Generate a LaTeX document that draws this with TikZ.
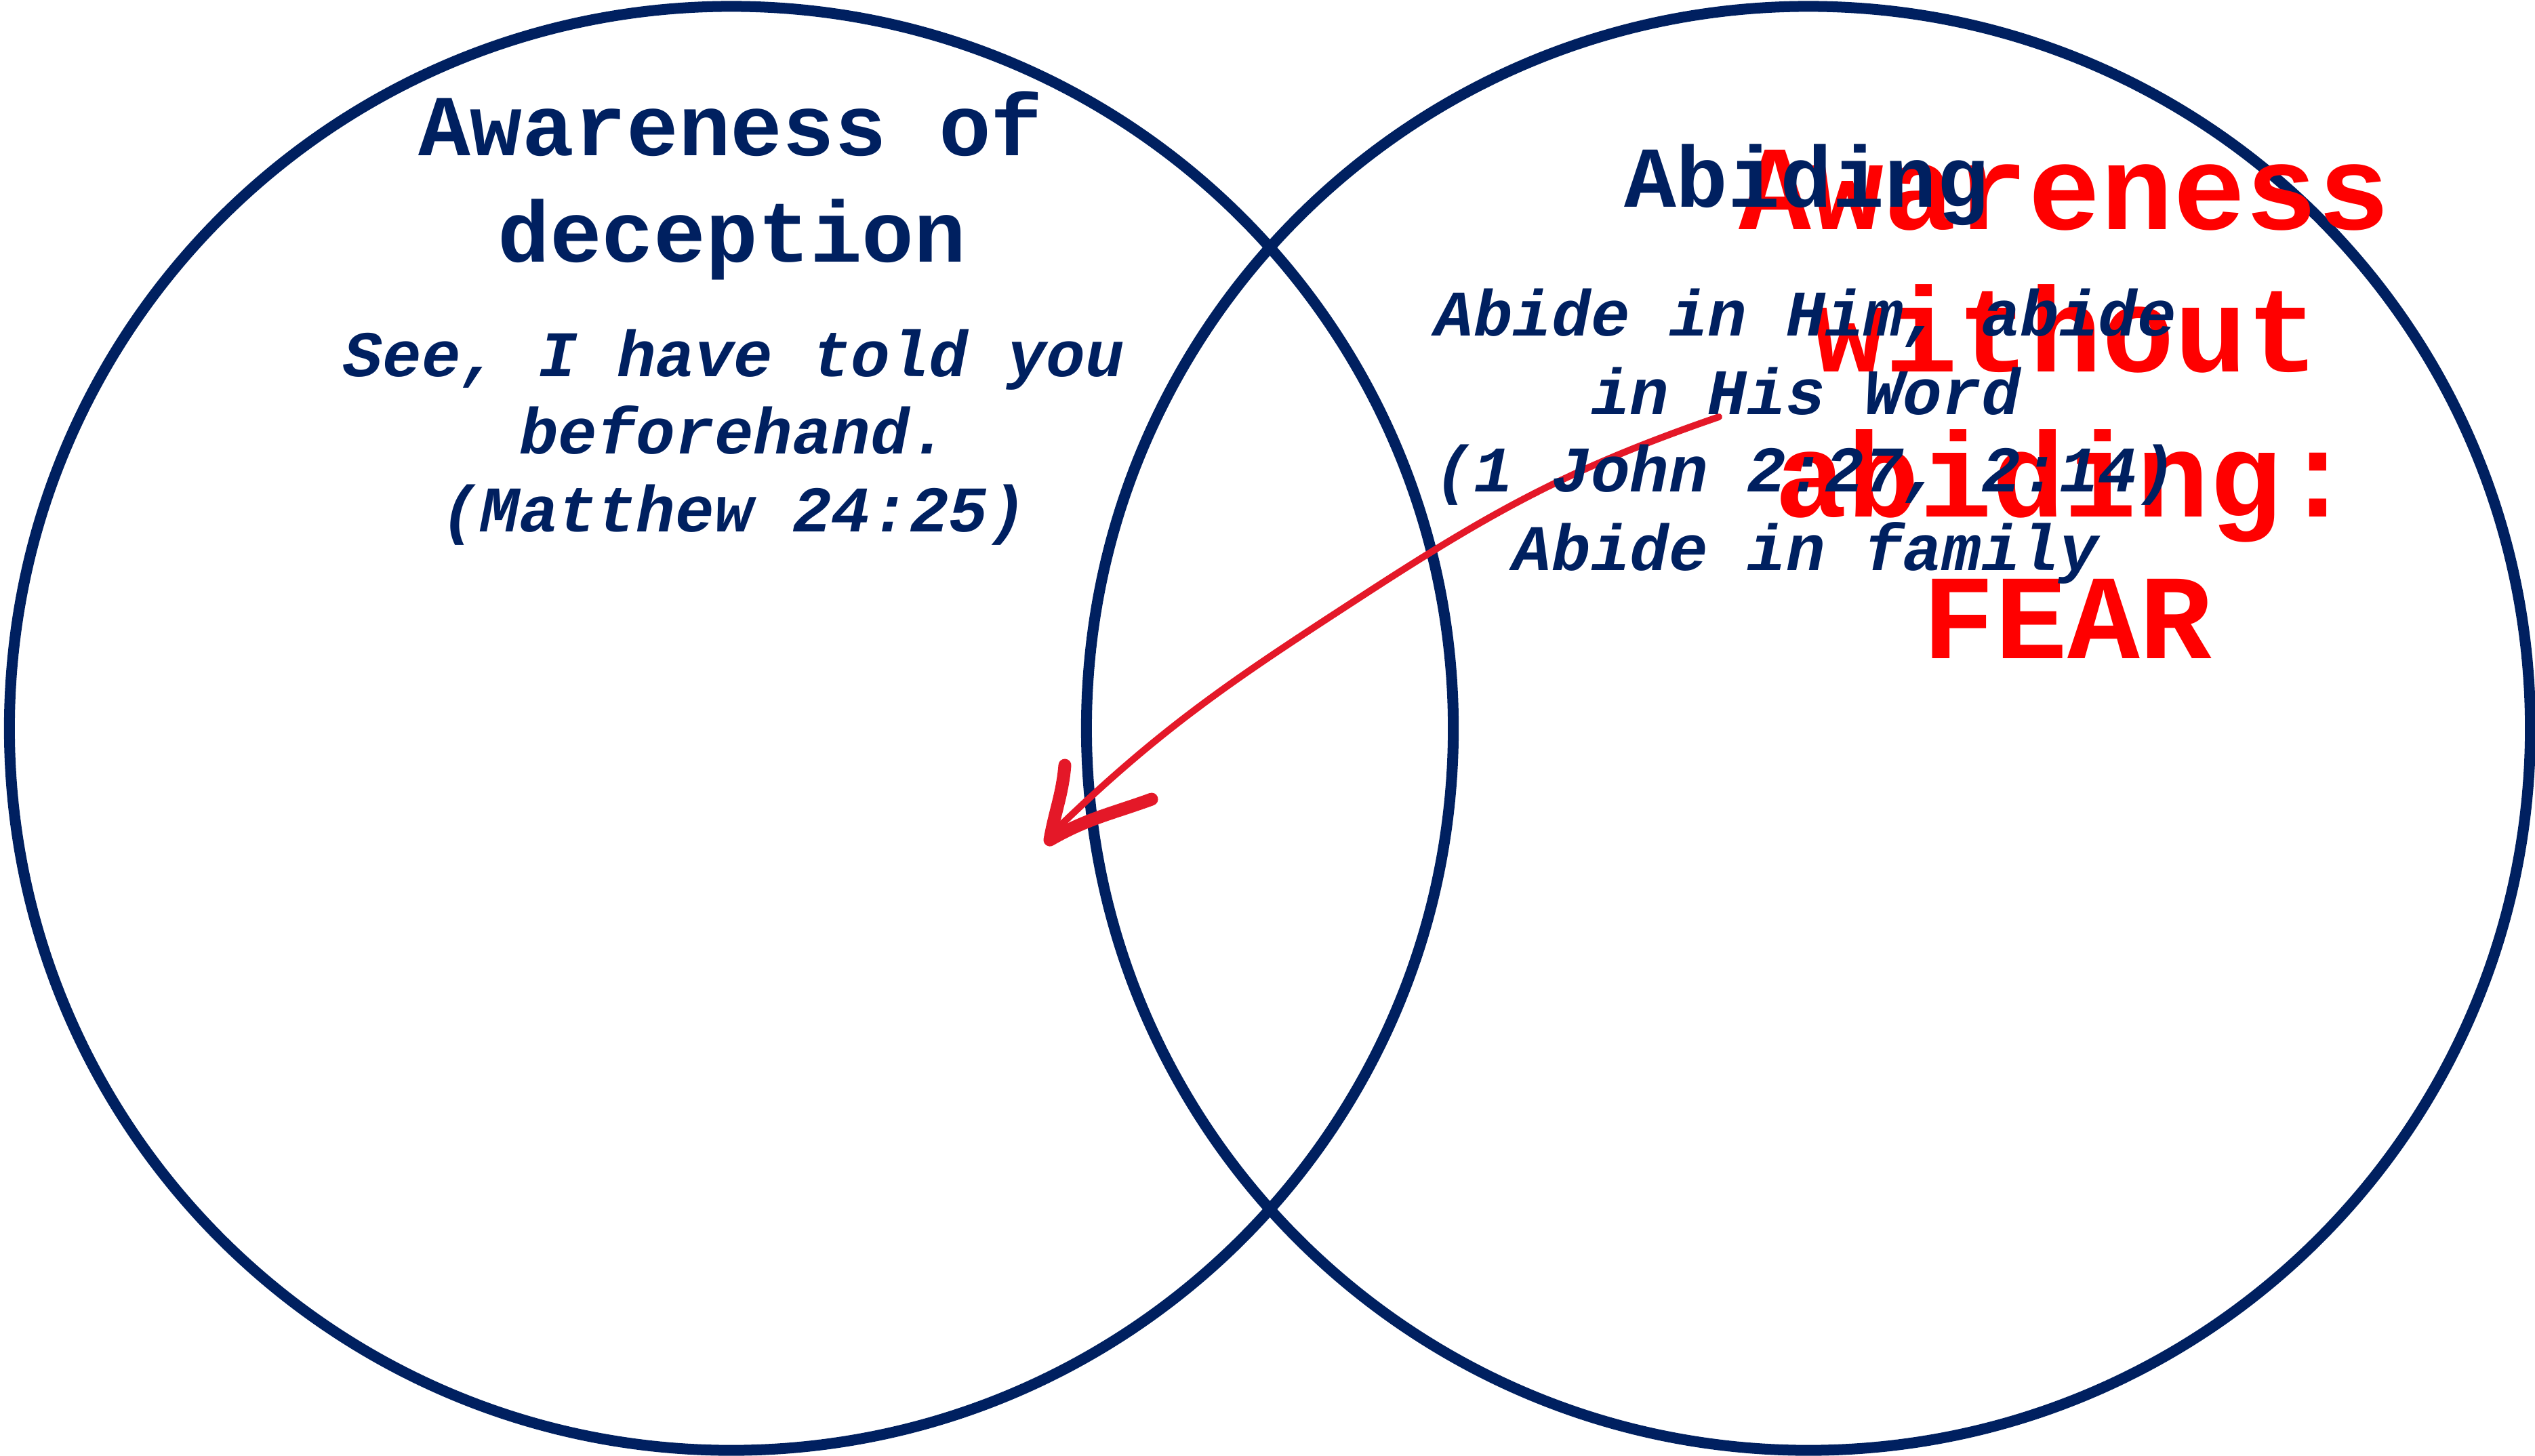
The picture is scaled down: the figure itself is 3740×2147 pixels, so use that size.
\documentclass[tikz,border=0pt]{standalone}
\usepackage{fontspec}
\newfontfamily\cour{Liberation Mono}
\definecolor{navy}{RGB}{0,32,96}
\definecolor{inkred}{RGB}{228,24,40}
\definecolor{redtxt}{RGB}{255,0,0}
\begin{document}
\begin{tikzpicture}[x=0.01cm,y=-0.01cm,
  ring/.style={draw=navy, line width=0.16cm, circle, minimum size=21.29cm, inner sep=0pt, outer sep=0pt},
  ttl/.style={anchor=base, inner sep=0pt, text=navy, font=\cour\bfseries\fontsize{36.4}{44}\selectfont},
  vrs/.style={anchor=base, inner sep=0pt, text=navy, font=\cour\bfseries\itshape\fontsize{27.3}{33}\selectfont},
  fear/.style={anchor=base, inner sep=0pt, text=redtxt, font=\cour\bfseries\fontsize{50.6}{60}\selectfont},
  shaft/.style={draw=inkred, line width=0.1cm, line cap=round, line join=round},
  head/.style={draw=inkred, line width=0.19cm, line cap=round, line join=round}]
\useasboundingbox (0,0) rectangle (3740,2147);
\node[ring] (L) at (1079,1074.5) {};
\node[ring] (R) at (2668,1074.5) {};
% red overlay text
\node[fear] (f1) at (3046,338) {Awareness};
\node[fear] (f2) at (3048,548) {without};
\node[fear] (f3) at (3046,762) {abiding:};
\node[fear] (f4) at (3050,971) {FEAR};
% arrow
\coordinate (s) at (2536,615);
\coordinate (m) at (2016,875);
\coordinate (e) at (1560,1222);
\coordinate (t) at (1549,1239);
\coordinate (b1) at (1571,1129);
\coordinate (b2) at (1699,1179);
\draw[shaft] (s) to[out=199,in=33] (m) to[out=213,in=44] (e);
\draw[head] (b1) to[out=-95,in=80] (t) to[out=30,in=200] (b2);
% left texts
\node[ttl] (a1) at (1078,229) {Awareness of};
\node[ttl] (a2) at (1080,386) {deception};
\node[vrs] (v1) at (1083,555) {See, I have told you};
\node[vrs] (v2) at (1083,669) {beforehand.};
\node[vrs] (v3) at (1083,784) {(Matthew 24:25)};
% right texts
\node[ttl] (b0) at (2665,305) {Abiding};
\node[vrs] (w1) at (2664,495) {Abide in Him, abide};
\node[vrs] (w2) at (2664,611) {in His Word};
\node[vrs] (w3) at (2664,725) {(1 John 2:27, 2:14)};
\node[vrs] (w4) at (2664,841) {Abide in family};
\end{tikzpicture}
\end{document}
